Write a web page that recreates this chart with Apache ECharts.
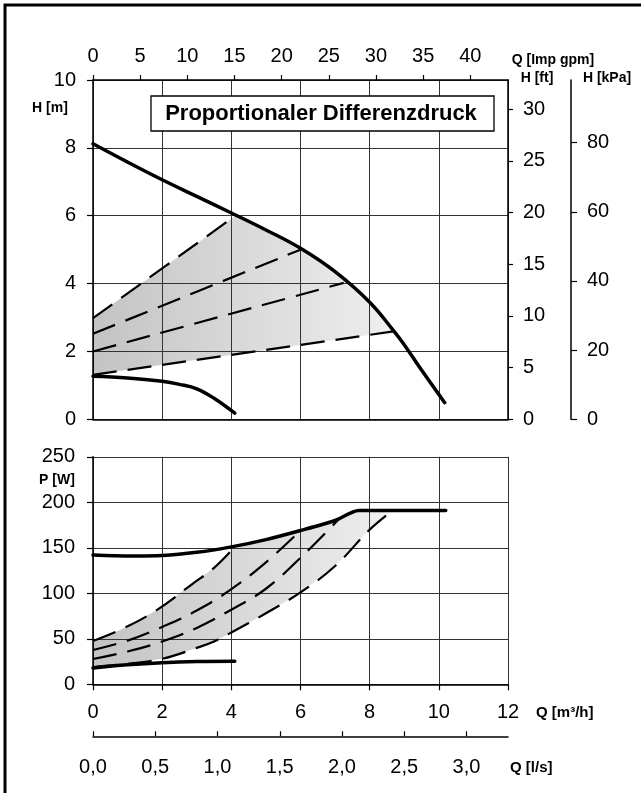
<!DOCTYPE html>
<html>
<head>
<meta charset="utf-8">
<script src="https://cdn.jsdelivr.net/npm/echarts@6/dist/echarts.min.js"></script>
<style>
  html, body { margin: 0; padding: 0; background: #fff; }
  #chart { width: 641px; height: 793px; }
</style>
</head>
<body>
<div id="chart"></div>
<script>
// upper diagram: head H [m] over flow Q [m3/h]
const qMaxH = [0, 1, 2, 3, 4, 5, 6, 7, 8, 8.7, 9, 9.5, 10.17]
const hMax = [8.12, 7.58, 7.06, 6.57, 6.08, 5.58, 5.04, 4.35, 3.45, 2.6, 2.2, 1.45, 0.49]
const qMinH = [0, 1, 2, 2.5, 3, 3.5, 4.1]
const hMin = [1.27, 1.22, 1.12, 1.03, 0.9, 0.62, 0.18]
// proportional pressure lines (start / end)
const qPp1 = [0, 4.16]
const hPp1 = [2.98, 6.03]
const qPp2 = [0, 6.0]
const hPp2 = [2.52, 5.0]
const qPp3 = [0, 7.25]
const hPp3 = [2.0, 4.02]
const qPp4 = [0, 8.69]
const hPp4 = [1.31, 2.59]

// lower diagram: power P [W] over flow Q [m3/h]
const qMaxP = [0, 1, 2, 3, 4, 5, 6, 7, 7.68, 10.2]
const pMax = [142, 141, 141.5, 145, 151, 159, 169, 180, 191, 191]
const qMinP = [0, 1, 2, 3, 4.1]
const pMin = [18, 21.5, 23.8, 25, 25.3]
const qPw1 = [0, 0.8, 1.8, 2.85, 3.5, 4.05]
const pPw1 = [47.6, 60, 80.5, 109.6, 128, 149]
const qPw2 = [0, 1, 2, 3, 4, 5, 6]
const pPw2 = [37.7, 48, 63, 81, 104.5, 134, 169]
const qPw3 = [0, 1, 2, 3, 4, 5, 6, 7.1]
const pPw3 = [27.8, 36, 47, 62, 82, 105, 139, 181]
const qPw4 = [0, 1, 2, 3, 3.5, 4, 5, 6, 7, 8, 8.66]
const pPw4 = [19, 22.5, 28, 40, 47, 57, 78, 101, 130, 170, 191]

// tick labels of the secondary axes
const gpmTicks = [0, 5, 10, 15, 20, 25, 30, 35, 40]
const ftTicks = [0, 5, 10, 15, 20, 25, 30]
const kpaTicks = [0, 20, 40, 60, 80]
const lsTicks = [0, 0.5, 1, 1.5, 2, 2.5, 3]

const FONT = '"Liberation Sans", Arial, sans-serif'
const GPM_PER_M3H = 3.6662
const FT_PER_M = 3.2808
const KPA_PER_M = 9.81

function pairs(xs, ys) {
  return xs.map((x, i) => [x, ys[i]])
}

function thick(data, xi, yi, smooth) {
  return {
    type: 'line', xAxisIndex: xi, yAxisIndex: yi, data: data,
    showSymbol: false, smooth: smooth, z: 5,
    lineStyle: { color: '#000', width: 3.5, cap: 'round' },
  }
}

function dashed(data, xi, yi) {
  return {
    type: 'line', xAxisIndex: xi, yAxisIndex: yi, data: data,
    showSymbol: false, smooth: 0.4, z: 4,
    lineStyle: { color: '#000', width: 2.2, type: [24, 11] },
  }
}

function shade(points, xi, yi) {
  return {
    type: 'custom', xAxisIndex: xi, yAxisIndex: yi, z: -1, silent: true,
    data: [[0, 0]],
    renderItem: function (params, api) {
      return {
        type: 'polygon',
        shape: { points: points.map((p) => api.coord(p)) },
        style: {
          fill: {
            type: 'linear', x: 0, y: 0, x2: 1, y2: 0,
            colorStops: [
              { offset: 0, color: '#c3c3c3' },
              { offset: 1, color: '#efefef' },
            ],
          },
        },
      }
    },
  }
}

const maxH = pairs(qMaxH, hMax)
const pp1 = pairs(qPp1, hPp1)
const pp4 = pairs(qPp4, hPp4)
const upperShade = pp1
  .concat(maxH.filter((p) => p[0] > qPp1[1] && p[0] < qPp4[1]))
  .concat(pp4.slice().reverse())

const maxP = pairs(qMaxP, pMax)
const pw1 = pairs(qPw1, pPw1)
const pw4 = pairs(qPw4, pPw4)
const lowerShade = pw1
  .concat(maxP.filter((p) => p[0] > qPw1[qPw1.length - 1] && p[0] < qPw4[qPw4.length - 1]))
  .concat(pw4.slice().reverse())

const labelStyle = { color: '#000', fontSize: 20, fontFamily: FONT }
const axisLine = { show: true, onZero: false, lineStyle: { color: '#000', width: 1.5 } }
const tickStyle = { color: '#000', width: 1.2 }
const grid = { show: true, lineStyle: { color: '#333', width: 1 } }

function nameText(text, x, y, align, size) {
  return {
    type: 'text', x: x, y: y, z: 100, silent: true,
    style: {
      text: text, fill: '#000', fontFamily: FONT, fontWeight: 'bold', fontSize: size || 14,
      align: align || 'center', verticalAlign: 'middle',
    },
  }
}

const chart = echarts.init(document.getElementById('chart'))
chart.setOption({
  animation: false,
  backgroundColor: '#fff',
  grid: [
    { left: 93, top: 80, width: 415, height: 339.3 },
    { left: 93, top: 456.8, width: 415, height: 227.5 },
  ],
  xAxis: [
    {
      type: 'value', gridIndex: 0, position: 'bottom', min: 0, max: 12, interval: 2,
      axisLine: axisLine, axisTick: { show: false }, axisLabel: { show: false }, splitLine: grid,
    },
    {
      type: 'value', gridIndex: 0, position: 'top', min: 0, max: 12 * GPM_PER_M3H,
      axisLine: axisLine,
      axisTick: { show: true, length: 5, customValues: gpmTicks, lineStyle: tickStyle },
      axisLabel: Object.assign({ margin: 14, customValues: gpmTicks }, labelStyle),
      splitLine: { show: false },
    },
    {
      type: 'value', gridIndex: 1, position: 'bottom', min: 0, max: 12, interval: 2,
      axisLine: axisLine,
      axisTick: { show: true, length: 6, lineStyle: tickStyle },
      axisLabel: Object.assign({ margin: 18 }, labelStyle),
      splitLine: grid,
    },
    {
      type: 'value', gridIndex: 1, position: 'bottom', offset: 52, min: 0, max: 12 / 3.6,
      axisLine: axisLine,
      axisTick: { show: true, inside: true, length: 5, customValues: lsTicks, lineStyle: tickStyle },
      axisLabel: Object.assign({
        margin: 21, customValues: lsTicks,
        formatter: (v) => v.toFixed(1).replace('.', ','),
      }, labelStyle),
      splitLine: { show: false },
    },
  ],
  yAxis: [
    {
      type: 'value', gridIndex: 0, position: 'left', min: 0, max: 10, interval: 2,
      axisLine: axisLine,
      axisTick: { show: true, length: 6, lineStyle: tickStyle },
      axisLabel: Object.assign({ margin: 17 }, labelStyle),
      splitLine: grid,
    },
    {
      type: 'value', gridIndex: 0, position: 'right', min: 0, max: 10 * FT_PER_M,
      axisLine: axisLine,
      axisTick: { show: true, length: 5, customValues: ftTicks, lineStyle: tickStyle },
      axisLabel: Object.assign({ margin: 15, customValues: ftTicks }, labelStyle),
      splitLine: { show: false },
    },
    {
      type: 'value', gridIndex: 0, position: 'right', offset: 63, min: 0, max: 10 * KPA_PER_M,
      axisLine: axisLine,
      axisTick: { show: true, length: 6, customValues: kpaTicks, lineStyle: tickStyle },
      axisLabel: Object.assign({ margin: 16, customValues: kpaTicks }, labelStyle),
      splitLine: { show: false },
    },
    {
      type: 'value', gridIndex: 1, position: 'left', min: 0, max: 250, interval: 50,
      axisLine: axisLine,
      axisTick: { show: true, length: 6, lineStyle: tickStyle },
      axisLabel: Object.assign({ margin: 18 }, labelStyle),
      splitLine: grid,
    },
  ],
  graphic: [
    {
      type: 'rect', z: 100, silent: true,
      shape: { x: 5, y: 5, width: 800, height: 900 },
      style: { fill: 'none', stroke: '#000', lineWidth: 3 },
    },
    {
      type: 'rect', z: 100, silent: true,
      shape: { x: 151, y: 96, width: 343, height: 35 },
      style: { fill: '#fff', stroke: '#000', lineWidth: 1.3 },
    },
    {
      type: 'text', x: 321, y: 114, z: 101, silent: true,
      style: {
        text: 'Proportionaler Differenzdruck', fill: '#000', fontFamily: FONT,
        fontWeight: 'bold', fontSize: 22, align: 'center', verticalAlign: 'middle',
      },
    },
    nameText('Q [Imp gpm]', 553, 60),
    nameText('H [ft]', 537, 78),
    nameText('H [kPa]', 607, 78),
    nameText('H [m]', 50, 108),
    nameText('P [W]', 57, 480),
    nameText('Q [m³/h]', 536, 713, 'left', 15),
    nameText('Q [l/s]', 510, 768, 'left', 15),
  ],
  series: [
    shade(upperShade, 0, 0),
    dashed(pp1, 0, 0),
    dashed(pairs(qPp2, hPp2), 0, 0),
    dashed(pairs(qPp3, hPp3), 0, 0),
    dashed(pp4, 0, 0),
    thick(maxH, 0, 0, 0.4),
    thick(pairs(qMinH, hMin), 0, 0, 0.4),

    shade(lowerShade, 2, 3),
    dashed(pw1, 2, 3),
    dashed(pairs(qPw2, pPw2), 2, 3),
    dashed(pairs(qPw3, pPw3), 2, 3),
    dashed(pw4, 2, 3),
    thick(maxP, 2, 3, 0.25),
    thick(pairs(qMinP, pMin), 2, 3, 0.4),
  ],
})
</script>
</body>
</html>
